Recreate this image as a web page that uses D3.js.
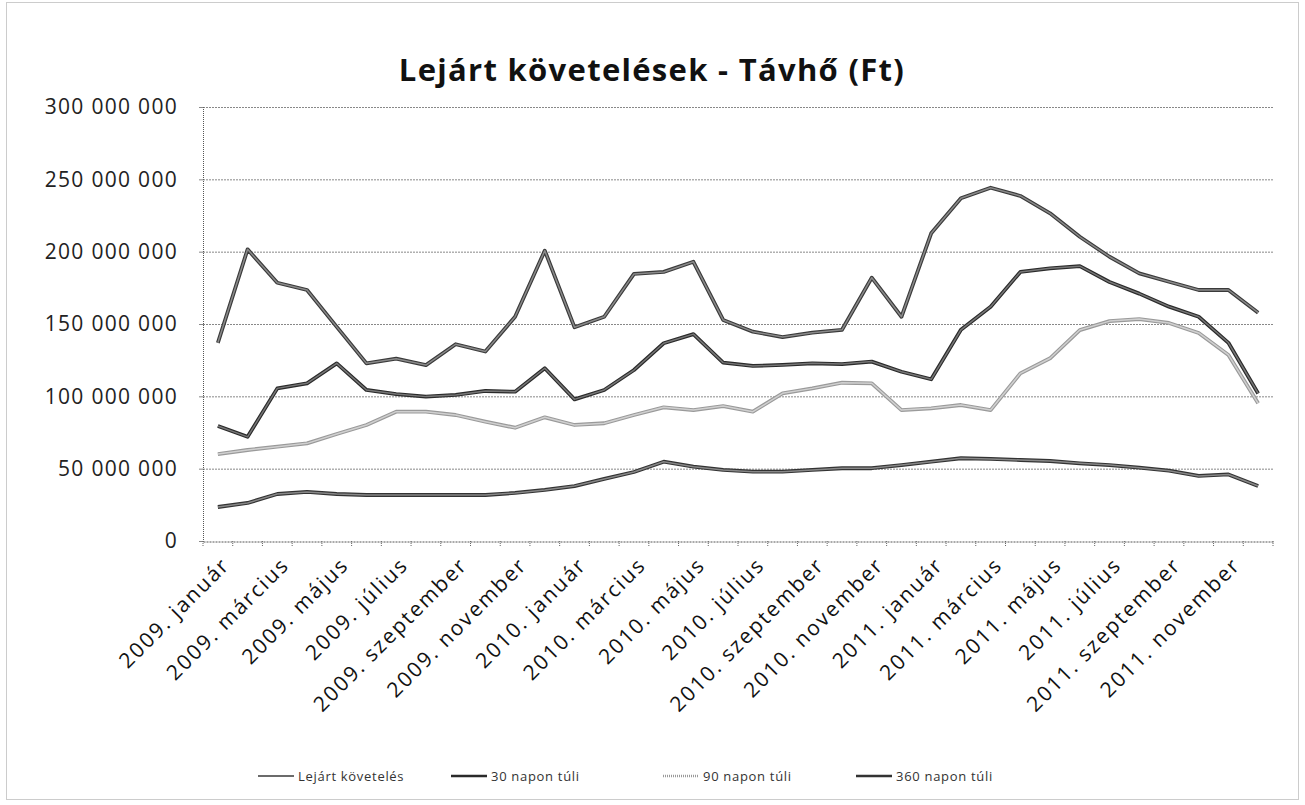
<!DOCTYPE html>
<html>
<head>
<meta charset="utf-8">
<script src="https://cdn.jsdelivr.net/npm/d3@7"></script>
<style>
body { margin: 0; background: #fff; }
svg text { font-family: "Open Sans", "Noto Sans", sans-serif; }
</style>
</head>
<body>
<svg id="chart"></svg>
<script>
// Lejárt követelések - Távhő, havi adatok 2009-2011 (millió Ft)

const evek = [2009, 2010, 2011]
const honapok = ["január", "február", "március", "április", "május", "június",
  "július", "augusztus", "szeptember", "október", "november", "december"]
const honapLista = evek.flatMap(ev => honapok.map(h => ev + ". " + h))

const lejart = [137, 201.6, 178.5, 173.5, 148, 122.8, 126, 121.6, 136, 131, 155, 200.7,
  147.7, 155, 184.6, 186, 193, 152.8, 144.7, 141, 144, 146, 182, 155,
  212.7, 236.9, 244.2, 238.5, 226.5, 210.3, 196.5, 185, 179.2, 173.5, 173.5, 157.8]
const napon30 = [79.5, 72, 105.5, 109, 122.8, 104.4, 101.6, 99.8, 101, 103.7, 103.2, 119.4,
  97.9, 104.4, 118.2, 136.7, 143, 123.3, 121, 121.7, 122.8, 122.3, 124, 117,
  111.8, 146, 162, 186, 188.5, 190, 179, 171, 162, 155, 137, 102]
const napon90 = [60.1, 62.9, 65.2, 67.5, 74, 80.2, 89.4, 89.4, 87.1, 82.5, 78.3, 85.5,
  80.2, 81.4, 87.1, 92.4, 90.5, 93.3, 89.4, 102.1, 105.5, 109.4, 109, 90.5,
  91.7, 94, 90.5, 115.9, 126.3, 145.8, 152, 153.4, 150.7, 143.8, 128.6, 95.2]
const napon360 = [23.5, 26.3, 32.5, 33.9, 32.5, 31.8, 31.8, 31.8, 31.8, 31.8, 33.2, 35.3,
  38, 42.9, 47.7, 54.8, 51.4, 49.1, 47.9, 47.9, 49.1, 50.3, 50.3, 52.5,
  54.8, 57.2, 56.7, 56, 55.3, 53.7, 52.5, 50.7, 48.6, 45, 46, 38]

const sorozatNevek = ["Lejárt követelés", "30 napon túli", "90 napon túli", "360 napon túli"]
const yTickek = [0, 50e6, 100e6, 150e6, 200e6, 250e6, 300e6]

// vonal stílusok: külső sötét + belső világosabb (szkennelt hatás)
const stilus = [
  {kulso: "#3a3a3a", belso: "#8a8a8a"},
  {kulso: "#2a2a2a", belso: "#777"},
  {kulso: "#9a9a9a", belso: "#d0d0d0"},
  {kulso: "#333", belso: "#888"}
]

const width = 1305, height = 805
const margin = {top: 107, right: 32, bottom: 264, left: 203}

const svg = d3.select("#chart").attr("width", width).attr("height", height)

// külső keret
svg.append("rect")
  .attr("x", 6.5).attr("y", 2.5)
  .attr("width", 1292).attr("height", 797)
  .attr("fill", "none").attr("stroke", "#999")
  .attr("stroke-dasharray", "1,1")

const x = d3.scaleBand()
  .domain(honapLista)
  .range([margin.left, width - margin.right])

const y = d3.scaleLinear()
  .domain([0, 300e6])
  .range([height - margin.bottom, margin.top])

const fmt = d3.formatLocale({thousands: " ", grouping: [3], decimal: ",", currency: ["", ""]}).format(",")

// rácsvonalak
svg.append("g")
  .selectAll("line")
  .data(yTickek.slice(1))
  .join("line")
  .attr("x1", margin.left).attr("x2", width - margin.right)
  .attr("y1", d => y(d) + 0.5).attr("y2", d => y(d) + 0.5)
  .attr("stroke", "#888")
  .attr("stroke-dasharray", "2,1")

// y tengely
const yAxis = svg.append("g")
  .attr("transform", `translate(${margin.left},0)`)
  .call(d3.axisLeft(y).tickValues(yTickek).tickFormat(fmt).tickSize(4))
yAxis.select(".domain").attr("stroke", "#555").attr("stroke-dasharray", "1,1")
yAxis.selectAll(".tick line").attr("stroke", "#888")
yAxis.selectAll("text")
  .attr("x", -25)
  .attr("font-size", "21px")
  .attr("letter-spacing", "1.3px")
  .attr("fill", "#222")

// x tengely
const xAxis = svg.append("g")
  .attr("transform", `translate(0,${y(0) + 0.5})`)
  .call(d3.axisBottom(x).tickSize(0).tickFormat(""))
xAxis.select(".domain").attr("stroke", "#555").attr("stroke-dasharray", "2,1")

// beosztások a kategóriák határán
svg.append("g")
  .selectAll("line")
  .data(d3.range(honapLista.length + 1))
  .join("line")
  .attr("x1", i => margin.left + i * x.step()).attr("x2", i => margin.left + i * x.step())
  .attr("y1", y(0)).attr("y2", y(0) + 6)
  .attr("stroke", "#666")
  .attr("stroke-dasharray", "1,1")

// x címkék (minden második hónap)
svg.append("g")
  .selectAll("text")
  .data(honapLista.filter((d, i) => i % 2 == 0))
  .join("text")
  .attr("transform", d => `translate(${x(d) + x.bandwidth() / 2 + 8},${y(0) + 20}) rotate(-45)`)
  .attr("text-anchor", "end")
  .attr("dy", "0.35em")
  .attr("font-size", "21px")
  .attr("letter-spacing", "2px")
  .attr("fill", "#111")
  .text(d => d)

// vonalak
const adatok = [lejart, napon30, napon90, napon360]
const vonal = d3.line()
  .x((d, i) => x(honapLista[i]) + x.bandwidth() / 2)
  .y(d => y(d * 1e6))

const vonalak = svg.append("g")
// 360, 90, 30, majd lejárt legfelül
;[3, 2, 1, 0].forEach(k => {
  vonalak.append("path")
    .datum(adatok[k])
    .attr("d", vonal)
    .attr("fill", "none")
    .attr("stroke", stilus[k].kulso)
    .attr("stroke-width", 3.8)
    .attr("stroke-linejoin", "round")
  vonalak.append("path")
    .datum(adatok[k])
    .attr("d", vonal)
    .attr("fill", "none")
    .attr("stroke", stilus[k].belso)
    .attr("stroke-width", 1.5)
    .attr("stroke-linejoin", "round")
})

// cím
svg.append("text")
  .attr("x", 652).attr("y", 81)
  .attr("text-anchor", "middle")
  .attr("font-size", "31px")
  .attr("font-weight", "bold")
  .attr("letter-spacing", "1.3px")
  .attr("fill", "#111")
  .text("Lejárt követelések - Távhő (Ft)")

// jelmagyarázat
const legendX = [258, 451, 663, 856]
const legend = svg.append("g")
  .selectAll("g")
  .data(sorozatNevek)
  .join("g")
  .attr("transform", (d, i) => `translate(${legendX[i]},776)`)
legend.append("line")
  .attr("x1", 0).attr("x2", 36)
  .attr("stroke", (d, i) => stilus[i].kulso)
  .attr("stroke-width", (d, i) => i == 0 ? 1.5 : 2.5)
  .attr("stroke-dasharray", (d, i) => i == 2 ? "1,1" : null)
legend.append("text")
  .attr("x", 40).attr("dy", "0.35em")
  .attr("font-size", "13px")
  .attr("letter-spacing", "0.7px")
  .attr("fill", "#333")
  .text(d => d)
</script>
</body>
</html>
